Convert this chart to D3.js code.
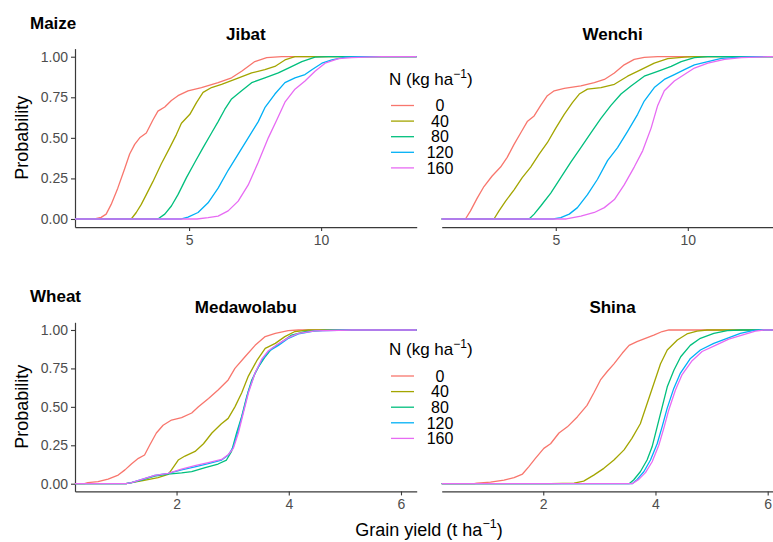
<!DOCTYPE html>
<html>
<head>
<meta charset="utf-8">
<script src="https://cdnjs.cloudflare.com/ajax/libs/d3/7.8.5/d3.min.js"></script>
<style>
  body { margin: 0; background: #fff; }
  svg { display: block; font-family: "Liberation Sans", Arial, sans-serif; }
</style>
</head>
<body>
<div id="page"></div>
<script>

  /* * * * * * * * * * * * * * * * * * * */
  /* values: [ yield, cumulative probability ] */

  var nRates = [ "0", "40", "80", "120", "160" ];
  var maizeSites = [ "Jibat", "Wenchi" ];
  var wheatSites = [ "Medawolabu", "Shina" ];
  var probTicks = [ 0, 0.25, 0.5, 0.75, 1 ];
  var maizeTicks = [ 5, 10 ];
  var wheatTicks = [ 2, 4, 6 ];

  var jibat = [
    [ [1.42,0],[1.67,.01],[1.86,.03],[2.05,.09],[2.30,.19],[2.56,.31],[2.75,.40],[2.94,.46],[3.13,.50],[3.38,.53],[3.63,.61],[3.82,.665],[4.08,.69],[4.33,.73],[4.58,.76],[4.96,.79],[5.47,.81],[6.10,.84],[6.61,.87],[6.99,.91],[7.49,.97],[7.94,.995],[8.51,1] ],
    [ [2.81,0],[3.0,.04],[3.19,.09],[3.38,.15],[3.63,.23],[3.95,.34],[4.27,.44],[4.52,.52],[4.71,.59],[5.03,.645],[5.28,.717],[5.53,.78],[5.85,.81],[6.23,.83],[6.73,.86],[7.37,.90],[7.87,.92],[8.25,.94],[8.63,.98],[9.01,1] ],
    [ [3.82,0],[4.08,.03],[4.33,.08],[4.58,.15],[4.90,.255],[5.22,.35],[5.53,.44],[5.85,.53],[6.10,.60],[6.35,.675],[6.61,.74],[6.99,.79],[7.37,.84],[7.87,.87],[8.38,.90],[8.76,.93],[9.27,.97],[9.77,.998],[10.28,1] ],
    [ [4.71,0],[4.96,.012],[5.34,.04],[5.72,.10],[6.10,.19],[6.48,.30],[6.86,.40],[7.24,.50],[7.62,.60],[7.87,.686],[8.25,.77],[8.63,.84],[9.01,.87],[9.39,.89],[9.65,.92],[10.03,.96],[10.41,.98],[10.91,.998],[11.4,1] ],
    [ [5.3,0],[5.72,.008],[6.10,.018],[6.48,.05],[6.86,.11],[7.24,.21],[7.62,.35],[8.0,.50],[8.32,.61],[8.63,.72],[9.01,.80],[9.39,.85],[9.77,.91],[10.15,.96],[10.66,.988],[11.16,.994],[11.67,.998],[12.3,1] ]
  ];

  var wenchi = [
    [ [1.58,0],[1.77,.05],[2.03,.13],[2.28,.20],[2.59,.265],[2.91,.32],[3.16,.38],[3.42,.46],[3.67,.53],[3.92,.60],[4.18,.635],[4.43,.70],[4.68,.76],[4.94,.79],[5.32,.805],[5.95,.82],[6.46,.84],[6.84,.86],[7.22,.90],[7.59,.95],[7.97,.984],[8.35,.996],[8.86,1] ],
    [ [2.66,0],[2.85,.05],[3.10,.11],[3.42,.18],[3.73,.255],[4.05,.32],[4.37,.40],[4.68,.47],[5.0,.56],[5.32,.645],[5.63,.717],[5.89,.77],[6.20,.80],[6.71,.81],[7.22,.83],[7.72,.88],[8.23,.92],[8.73,.96],[9.24,.988],[9.87,.998],[10.25,1] ],
    [ [3.99,0],[4.18,.03],[4.43,.08],[4.81,.16],[5.19,.255],[5.57,.35],[5.95,.44],[6.33,.53],[6.71,.62],[7.09,.70],[7.47,.77],[7.85,.82],[8.35,.88],[8.86,.91],[9.37,.94],[9.75,.97],[10.25,.994],[10.76,1] ],
    [ [4.9,0],[5.19,.008],[5.51,.03],[5.82,.07],[6.20,.15],[6.58,.245],[6.96,.36],[7.34,.44],[7.72,.54],[8.10,.645],[8.35,.727],[8.73,.81],[9.11,.86],[9.49,.89],[9.87,.92],[10.25,.95],[10.76,.97],[11.27,.99],[12.0,.998],[12.6,1] ],
    [ [5.4,0],[5.95,.018],[6.46,.04],[6.84,.07],[7.22,.12],[7.59,.21],[7.97,.32],[8.29,.42],[8.61,.56],[8.86,.70],[9.11,.79],[9.49,.85],[9.87,.89],[10.25,.93],[10.76,.96],[11.39,.984],[12.03,.994],[13.04,1] ]
  ];

  var medawolabu = [
    [ [0.36,0],[0.42,.007],[0.60,.013],[0.78,.03],[0.96,.056],[1.08,.09],[1.20,.13],[1.32,.165],[1.43,.187],[1.52,.25],[1.64,.33],[1.76,.38],[1.91,.414],[2.09,.43],[2.27,.46],[2.39,.50],[2.57,.555],[2.74,.61],[2.92,.675],[3.04,.75],[3.22,.826],[3.40,.90],[3.58,.957],[3.76,.978],[3.99,.996],[4.17,1] ],
    [ [1.1,0],[1.4,.02],[1.67,.04],[1.85,.06],[1.91,.09],[2.03,.154],[2.15,.18],[2.33,.21],[2.48,.26],[2.63,.33],[2.80,.39],[2.92,.425],[3.04,.50],[3.16,.59],[3.28,.70],[3.43,.80],[3.58,.88],[3.76,.913],[3.93,.957],[4.11,.99],[4.35,1] ],
    [ [1.1,0],[1.20,.007],[1.375,.024],[1.61,.05],[1.85,.063],[2.09,.07],[2.27,.078],[2.51,.104],[2.74,.128],[2.89,.154],[2.98,.21],[3.07,.33],[3.16,.436],[3.25,.566],[3.34,.675],[3.46,.76],[3.58,.826],[3.70,.88],[3.88,.924],[4.05,.967],[4.29,.99],[4.6,.998],[4.95,1] ],
    [ [1.1,0],[1.196,.007],[1.613,.054],[1.851,.067],[2.089,.09],[2.327,.11],[2.565,.13],[2.804,.154],[2.923,.187],[3.012,.24],[3.101,.35],[3.19,.47],[3.28,.60],[3.399,.72],[3.518,.80],[3.637,.86],[3.815,.90],[3.994,.946],[4.173,.974],[4.47,.994],[5.065,1] ],
    [ [1.1,0],[1.196,.007],[1.613,.054],[1.851,.067],[2.089,.095],[2.327,.117],[2.565,.137],[2.804,.158],[2.923,.19],[3.012,.23],[3.101,.33],[3.19,.46],[3.28,.59],[3.399,.72],[3.518,.81],[3.637,.865],[3.815,.91],[3.994,.95],[4.173,.978],[4.47,.994],[5.125,1] ]
  ];

  var shina = [
    [ [0.77,0],[0.82,.004],[1.06,.011],[1.30,.024],[1.48,.04],[1.63,.063],[1.74,.11],[1.86,.165],[2.01,.23],[2.13,.26],[2.28,.33],[2.43,.37],[2.61,.436],[2.78,.51],[2.90,.59],[3.02,.675],[3.14,.73],[3.26,.78],[3.41,.85],[3.53,.90],[3.67,.924],[3.82,.946],[3.97,.967],[4.12,.99],[4.24,1] ],
    [ [2.13,0],[2.55,.004],[2.72,.017],[2.90,.056],[3.08,.10],[3.26,.154],[3.44,.22],[3.58,.295],[3.73,.39],[3.85,.52],[3.97,.65],[4.09,.78],[4.21,.87],[4.39,.935],[4.56,.974],[4.74,.993],[4.92,1] ],
    [ [3.53,0],[3.61,.024],[3.73,.078],[3.85,.154],[3.94,.24],[4.03,.37],[4.12,.50],[4.21,.63],[4.33,.74],[4.45,.826],[4.62,.90],[4.80,.946],[5.04,.978],[5.28,.996],[5.51,1] ],
    [ [3.585,0],[3.674,.028],[3.792,.078],[3.911,.154],[4.03,.26],[4.118,.37],[4.208,.49],[4.326,.62],[4.445,.72],[4.623,.815],[4.801,.87],[5.039,.913],[5.276,.946],[5.513,.978],[5.751,.998],[5.869,1] ],
    [ [3.585,0],[3.703,.028],[3.822,.072],[3.941,.143],[4.059,.25],[4.148,.36],[4.237,.48],[4.356,.61],[4.475,.71],[4.653,.80],[4.831,.86],[5.068,.90],[5.306,.94],[5.543,.967],[5.78,.993],[5.929,1] ]
  ];

(function() {

  "use strict";

  var d3 = window.d3;

  var W = 773,
    H = 542,
    colours = [ "#F8766D", "#A3A500", "#00BF7D", "#00B0F6", "#E76BF3" ],
    axisColour = "#3a3a3a",
    tickColour = "#4D4D4D",
    panelX = [ [ 75, 416.7 ], [ 441.7, 783.4 ] ];

  var rows = [
    {
      crop: "Maize", sites: maizeSites, data: [ jibat, wenchi ],
      ticks: maizeTicks, domain: [ 0.68, 13.62 ],
      cropY: 29, siteY: 40, top: 48.6, bottom: 227.1,
      legendY: 85, keyY: 105.5
    },
    {
      crop: "Wheat", sites: wheatSites, data: [ medawolabu, shina ],
      ticks: wheatTicks, domain: [ 0.19, 6.28 ],
      cropY: 302.3, siteY: 313, top: 322.3, bottom: 491.4,
      legendY: 355, keyY: 376
    }
  ];

  var svg = d3.select( "#page" ).append( "svg" )
    .attr( "width", W )
    .attr( "height", H );

  svg.append( "rect" )
    .attr( "width", W )
    .attr( "height", H )
    .attr( "fill", "#fff" );

  function styleAxis( g ) {
    g.attr( "font-family", null ).attr( "font-size", null );
    g.select( ".domain" )
      .attr( "stroke", axisColour )
      .attr( "stroke-width", 1.2 );
    g.selectAll( ".tick line" )
      .attr( "stroke", axisColour )
      .attr( "stroke-width", 1.1 );
    g.selectAll( ".tick text" )
      .attr( "fill", tickColour )
      .style( "font-size", "14px" );
  }

  function supLabel( text, before, after, size, supSize ) {
    text.style( "font-size", size + "px" );
    text.append( "tspan" ).text( before );
    text.append( "tspan" )
      .attr( "dy", -0.42 * size )
      .style( "font-size", supSize + "px" )
      .text( "\u22121" );
    text.append( "tspan" )
      .attr( "dy", 0.42 * size )
      .text( after );
  }

  /* * * * * * * * * * * * * * * * * * * */

  rows.forEach( function( row ) {

    var y = d3.scaleLinear()
      .domain( [ -0.05, 1.05 ] )
      .range( [ row.bottom, row.top ] );

    svg.append( "text" )
      .attr( "x", 30 )
      .attr( "y", row.cropY )
      .style( "font-size", "17px" )
      .style( "font-weight", "bold" )
      .text( row.crop );

    row.sites.forEach( function( site, i ) {

      var x = d3.scaleLinear()
        .domain( row.domain )
        .range( panelX[ i ] );

      var line = d3.line()
        .x( function( d ) { return x( d[0] ); } )
        .y( function( d ) { return y( d[1] ); } );

      svg.append( "text" )
        .attr( "x", ( panelX[i][0] + panelX[i][1] ) / 2 )
        .attr( "y", row.siteY )
        .attr( "text-anchor", "middle" )
        .style( "font-size", "17px" )
        .style( "font-weight", "bold" )
        .text( site );

      svg.append( "g" )
        .attr( "transform", "translate(0," + row.bottom + ")" )
        .call( d3.axisBottom( x )
          .tickValues( row.ticks )
          .tickFormat( d3.format( "d" ) )
          .tickSize( 4 )
          .tickSizeOuter( 0 )
          .tickPadding( 4 ) )
        .call( styleAxis );

      if ( i === 0 ) {
        svg.append( "g" )
          .attr( "transform", "translate(" + panelX[0][0] + ",0)" )
          .call( d3.axisLeft( y )
            .tickValues( probTicks )
            .tickFormat( d3.format( ".2f" ) )
            .tickSize( 4 )
            .tickSizeOuter( 0 )
            .tickPadding( 3 ) )
          .call( styleAxis );
      }

      // ecdf lines run out to the panel edges, as stat_ecdf pads them
      svg.append( "g" )
        .selectAll( "path" )
        .data( row.data[ i ] )
        .join( "path" )
        .attr( "fill", "none" )
        .attr( "stroke", function( d, k ) { return colours[ k ]; } )
        .attr( "stroke-width", 1.3 )
        .attr( "stroke-linejoin", "round" )
        .attr( "d", function( d ) {
          return line( [ [ row.domain[0], 0 ] ].concat( d, [ [ row.domain[1], 1 ] ] ) );
        });

    });

    /* * * * * * * * * * * * * * * * * * * */

    svg.append( "text" )
      .attr( "transform", "translate(28," + ( row.top + row.bottom ) / 2 + ") rotate(-90)" )
      .attr( "text-anchor", "middle" )
      .style( "font-size", "18px" )
      .text( "Probability" );

    var legend = svg.append( "g" );

    legend.append( "text" )
      .attr( "x", 389 )
      .attr( "y", row.legendY )
      .call( supLabel, "N (kg ha", ")", 17, 12 );

    var keys = legend.selectAll( ".key" )
      .data( nRates )
      .join( "g" )
      .attr( "class", "key" )
      .attr( "transform", function( d, k ) {
        return "translate(0," + ( row.keyY + k * 15.6 ) + ")";
      });

    keys.append( "line" )
      .attr( "x1", 391 )
      .attr( "x2", 414 )
      .attr( "stroke", function( d, k ) { return colours[ k ]; } )
      .attr( "stroke-width", 1.3 );

    keys.append( "text" )
      .attr( "x", 440 )
      .attr( "dy", "0.36em" )
      .attr( "text-anchor", "middle" )
      .style( "font-size", "16px" )
      .text( function( d ) { return d; } );

  });

  /* * * * * * * * * * * * * * * * * * * */

  svg.append( "text" )
    .attr( "x", 429 )
    .attr( "y", 536 )
    .attr( "text-anchor", "middle" )
    .call( supLabel, "Grain yield (t ha", ")", 18, 12.5 );

})();

</script>
</body>
</html>
